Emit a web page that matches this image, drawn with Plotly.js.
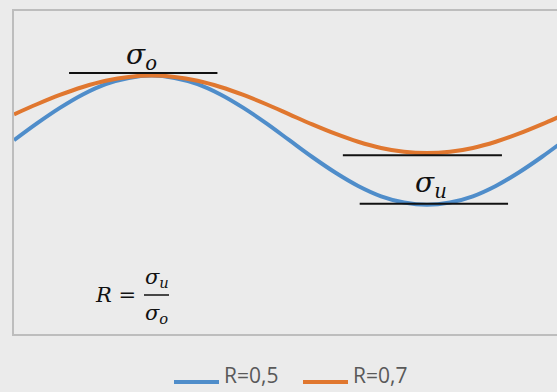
<!DOCTYPE html>
<html><head><meta charset="utf-8">
<script src="https://cdn.plot.ly/plotly-3.0.1.min.js"></script>
<style>html,body{margin:0;padding:0;background:#ebebeb;}#chart{width:557px;height:392px;}</style>
</head><body><div id="chart"></div>
<script>
// phase angle (degrees)
const phase = [0,15,30,45,60,75,90,105,120,135,150,165,180,195,210,225,240,255,270,285,300,315,330,345,360];
// stress, R = 0.5 (relative to sigma_o)
const stressR05 = [0.75,0.815,0.875,0.927,0.967,0.991,1.0,0.991,0.967,0.927,0.875,0.815,0.75,0.685,0.625,0.573,0.533,0.509,0.5,0.509,0.533,0.573,0.625,0.685,0.75];
// stress, R = 0.7
const stressR07 = [0.85,0.889,0.925,0.956,0.98,0.995,1.0,0.995,0.98,0.956,0.925,0.889,0.85,0.811,0.775,0.744,0.72,0.705,0.7,0.705,0.72,0.744,0.775,0.811,0.85];
const seriesNames = ['R=0,5','R=0,7'];
const seriesColors = ['#4f8dca','#e0772f'];
// reference level lines: [x0, x1, y]
const levelUpper = [36, 133, 1.01];
const levelLowerR07 = [215, 319, 0.692];
const levelLowerR05 = [226, 323, 0.504];

const traces = [
  {x: phase, y: stressR05, name: seriesNames[0], mode: 'lines', line: {color: seriesColors[0], width: 4, shape: 'spline'}},
  {x: phase, y: stressR07, name: seriesNames[1], mode: 'lines', line: {color: seriesColors[1], width: 4, shape: 'spline'}}
];
function lvl(a){ return {type:'line', xref:'x', yref:'y', x0:a[0], x1:a[1], y0:a[2], y1:a[2], line:{color:'#111', width:2}}; }
// pixel helpers for paper coordinates (plot area: x 14..557, y 11..334)
const px = v => (v - 14) / 543;
const py = v => (334 - v) / 323;
const mathFont = {family: 'DejaVu Serif', size: 28, color: '#111'};
const fracFont = {family: 'DejaVu Serif', size: 21, color: '#111'};
const legFont = {family: 'Open Sans', size: 21, color: '#595959'};
const legendShapes = [
  {type:'line', xref:'paper', yref:'paper', x0:px(174), x1:px(219), y0:py(382), y1:py(382), line:{color: seriesColors[0], width:4}},
  {type:'line', xref:'paper', yref:'paper', x0:px(303), x1:px(348), y0:py(382), y1:py(382), line:{color: seriesColors[1], width:4}}
];
const legendTexts = [
  {xref:'paper', yref:'paper', x:px(222), y:py(391), text: seriesNames[0], showarrow:false, font: legFont, xanchor:'left', yanchor:'bottom'},
  {xref:'paper', yref:'paper', x:px(351), y:py(391), text: seriesNames[1], showarrow:false, font: legFont, xanchor:'left', yanchor:'bottom'}
];
const layout = {
  width: 557, height: 392,
  margin: {l: 14, r: 0, t: 11, b: 58, autoexpand: false},
  paper_bgcolor: '#ebebeb', plot_bgcolor: '#ebebeb',
  showlegend: false,
  xaxis: {range: [0, 355], showgrid: false, zeroline: false, showticklabels: false, ticks: '',
          showline: true, mirror: true, linecolor: '#bdbdbd', linewidth: 2},
  yaxis: {range: [0, 1.25], showgrid: false, zeroline: false, showticklabels: false, ticks: '',
          showline: true, mirror: false, linecolor: '#bdbdbd', linewidth: 2},
  shapes: [lvl(levelUpper), lvl(levelLowerR07), lvl(levelLowerR05),
    {type:'line', xref:'paper', yref:'paper', x0:px(144), x1:px(169), y0:py(295), y1:py(295), line:{color:'#111', width:1.5}}
  ].concat(legendShapes),
  annotations: [
    {xref:'paper', yref:'paper', x:px(141), y:py(56), text:'<i>σ<sub>o</sub></i>', showarrow:false, font: mathFont, xanchor:'center', yanchor:'middle'},
    {xref:'paper', yref:'paper', x:px(431), y:py(184), text:'<i>σ<sub>u</sub></i>', showarrow:false, font: mathFont, xanchor:'center', yanchor:'middle'},
    {xref:'paper', yref:'paper', x:px(115), y:py(295), text:'<i>R</i> =', showarrow:false, font: fracFont, xanchor:'center', yanchor:'middle'},
    {xref:'paper', yref:'paper', x:px(157), y:py(278), text:'<i>σ<sub>u</sub></i>', showarrow:false, font: fracFont, xanchor:'center', yanchor:'middle'},
    {xref:'paper', yref:'paper', x:px(156), y:py(314), text:'<i>σ<sub>o</sub></i>', showarrow:false, font: fracFont, xanchor:'center', yanchor:'middle'}
  ].concat(legendTexts)
};
Plotly.newPlot('chart', traces, layout, {displayModeBar: false, staticPlot: true});
</script></body></html>
